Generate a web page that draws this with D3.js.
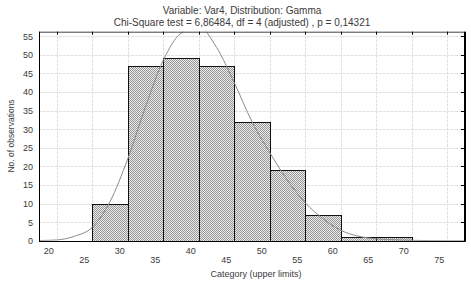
<!DOCTYPE html>
<html>
<head>
<meta charset="utf-8">
<script src="https://cdn.jsdelivr.net/npm/d3@7"></script>
<style>
  body { margin: 0; background: #fff; }
  text { font-family: "Liberation Sans", Arial, sans-serif; fill: #3a3a3a; }
</style>
</head>
<body>
<svg id="chart" width="471" height="282"></svg>
<script>
// histogram bins (lower, upper limit) and counts
const binLower = [25, 30, 35, 40, 45, 50, 55, 60, 65];
const binUpper = [30, 35, 40, 45, 50, 55, 60, 65, 70];
const counts = [10, 47, 49, 47, 32, 19, 7, 1, 1];

// fitted gamma curve
const curveX = [17.5, 20, 22.5, 25, 27.5, 30, 32.5, 35, 37.5, 40, 42.5, 45, 47.5, 50, 52.5, 55, 57.5, 60, 62.5, 65, 67.5, 70, 72.5, 75, 77.5];
const curveY = [0.05, 0.2, 1.2, 3.6, 10.5, 22, 36, 48.5, 55.8, 57.5, 52, 42.5, 32, 23.7, 16.2, 10.2, 5.9, 2.8, 1.2, 0.5, 0.25, 0.1, 0.03, 0, 0];

const xTicks = [20, 25, 30, 35, 40, 45, 50, 55, 60, 65, 70, 75];
const yTicks = [0, 5, 10, 15, 20, 25, 30, 35, 40, 45, 50, 55];

const titleLines = [
  'Variable: Var4, Distribution: Gamma',
  'Chi-Square test = 6,86484, df = 4 (adjusted) , p = 0,14321'
];
const xTitle = 'Category (upper limits)';
const yTitle = 'No. of observations';

const plot = { left: 39, right: 465, top: 31.7, bottom: 240.7 };

const svg = d3.select('#chart');

const x = d3.scaleLinear().domain([17.5, 77.5]).range([plot.left, plot.right]);
const y = d3.scaleLinear().domain([0, 56.2]).range([plot.bottom, plot.top]);

// fine checker hatch for bars
const defs = svg.append('defs');
const pat = defs.append('pattern')
  .attr('id', 'hatch')
  .attr('patternUnits', 'userSpaceOnUse')
  .attr('width', 2)
  .attr('height', 2);
pat.append('rect').attr('width', 2).attr('height', 2).attr('fill', '#ebebeb');
pat.append('rect').attr('x', 0).attr('y', 0).attr('width', 1).attr('height', 1).attr('fill', '#979797');
pat.append('rect').attr('x', 1).attr('y', 1).attr('width', 1).attr('height', 1).attr('fill', '#979797');

defs.append('clipPath').attr('id', 'clip')
  .append('rect')
  .attr('x', plot.left)
  .attr('y', plot.top)
  .attr('width', plot.right - plot.left)
  .attr('height', plot.bottom - plot.top);

// grid
const grid = svg.append('g').attr('class', 'grid');
grid.selectAll('line.v').data(xTicks).enter().append('line')
  .attr('class', 'v')
  .attr('x1', d => Math.round(x(d)) + 0.5)
  .attr('x2', d => Math.round(x(d)) + 0.5)
  .attr('y1', plot.top)
  .attr('y2', plot.bottom)
  .attr('stroke', '#e0e0e0')
  .attr('stroke-dasharray', '3,1');
grid.selectAll('line.h').data(yTicks.slice(1)).enter().append('line')
  .attr('class', 'h')
  .attr('x1', plot.left)
  .attr('x2', plot.right)
  .attr('y1', d => Math.round(y(d)) + 0.5)
  .attr('y2', d => Math.round(y(d)) + 0.5)
  .attr('stroke', '#e0e0e0')
  .attr('stroke-dasharray', '3,1');

// bars
svg.append('g').selectAll('rect').data(counts).enter().append('rect')
  .attr('x', (d, i) => Math.round(x(binLower[i])) + 0.5)
  .attr('y', d => Math.round(y(d)) + 0.5)
  .attr('width', (d, i) => Math.round(x(binUpper[i])) - Math.round(x(binLower[i])))
  .attr('height', d => Math.round(y(0)) - Math.round(y(d)))
  .attr('fill', 'url(#hatch)')
  .attr('stroke', '#111')
  .attr('stroke-width', 1);

// fitted curve
const line = d3.line()
  .x(d => x(d[0]))
  .y(d => y(d[1]))
  .curve(d3.curveMonotoneX);
svg.append('path')
  .datum(curveX.map((d, i) => [d, curveY[i]]))
  .attr('clip-path', 'url(#clip)')
  .attr('d', line)
  .attr('fill', 'none')
  .attr('stroke', '#8a8a8a')
  .attr('stroke-width', 1);

// frame
const frame = svg.append('g');
frame.append('line')
  .attr('x1', plot.left).attr('x2', plot.right)
  .attr('y1', plot.top + 0.5).attr('y2', plot.top + 0.5)
  .attr('stroke', '#444');
frame.append('line')
  .attr('x1', plot.right).attr('x2', plot.right)
  .attr('y1', plot.top).attr('y2', plot.bottom + 1)
  .attr('stroke', '#000').attr('stroke-width', 2);
frame.append('line')
  .attr('x1', plot.left + 0.5).attr('x2', plot.left + 0.5)
  .attr('y1', plot.top).attr('y2', plot.bottom + 1)
  .attr('stroke', '#000');
frame.append('line')
  .attr('x1', plot.left).attr('x2', plot.right)
  .attr('y1', Math.round(plot.bottom) + 0.5).attr('y2', Math.round(plot.bottom) + 0.5)
  .attr('stroke', '#000');

// inward ticks on top and right
frame.selectAll('line.tt').data(xTicks).enter().append('line')
  .attr('x1', d => Math.round(x(d)) + 0.5).attr('x2', d => Math.round(x(d)) + 0.5)
  .attr('y1', plot.top).attr('y2', plot.top + 3)
  .attr('stroke', '#000');
frame.selectAll('line.rt').data(yTicks.slice(1)).enter().append('line')
  .attr('x1', plot.right - 4).attr('x2', plot.right)
  .attr('y1', d => Math.round(y(d)) + 0.5).attr('y2', d => Math.round(y(d)) + 0.5)
  .attr('stroke', '#000');

// y tick labels
svg.append('g').selectAll('text').data(yTicks).enter().append('text')
  .attr('x', 33)
  .attr('y', d => y(d) + 3.5)
  .attr('text-anchor', 'end')
  .attr('font-size', 9)
  .text(d => d);

// x tick labels, staggered in two rows
svg.append('g').selectAll('text').data(xTicks).enter().append('text')
  .attr('x', d => x(d) - 8)
  .attr('y', (d, i) => i % 2 === 0 ? 253.5 : 262.5)
  .attr('text-anchor', 'middle')
  .attr('font-size', 9)
  .text(d => d);

// titles
svg.selectAll('text.title').data(titleLines).enter().append('text')
  .attr('class', 'title')
  .attr('x', 242)
  .attr('y', (d, i) => 13.5 + i * 12)
  .attr('text-anchor', 'middle')
  .attr('font-size', 10)
  .text(d => d);

svg.append('text')
  .attr('x', 256)
  .attr('y', 276.5)
  .attr('text-anchor', 'middle')
  .attr('font-size', 9)
  .text(xTitle);

svg.append('text')
  .attr('transform', 'translate(13.5,136) rotate(-90)')
  .attr('text-anchor', 'middle')
  .attr('font-size', 8.5)
  .text(yTitle);
</script>
</body>
</html>
